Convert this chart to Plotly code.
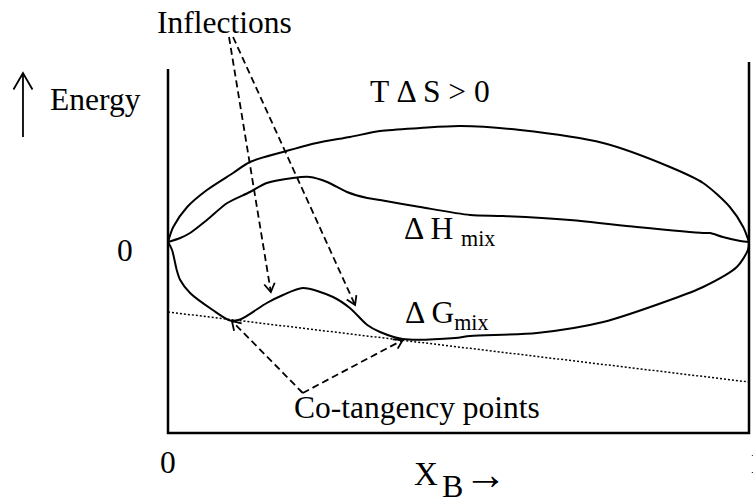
import math
import plotly.graph_objects as go

# ---------------- data (composition X_B, energy in arbitrary units) ----------------
x_TdS = [0, 0.009, 0.033, 0.067, 0.112, 0.141, 0.198, 0.256, 0.313, 0.365, 0.434, 0.503,
         0.606, 0.749, 0.864, 0.921, 0.967, 0.990, 1.0]
y_TdS = [0, 0.15, 0.35, 0.52, 0.69, 0.80, 0.90, 0.99, 1.05, 1.11, 1.14, 1.16,
         1.12, 0.99, 0.75, 0.59, 0.35, 0.15, 0.0]

x_dH = [0, 0.021, 0.038, 0.067, 0.102, 0.141, 0.170, 0.215, 0.244, 0.274, 0.308, 0.343,
        0.365, 0.434, 0.520, 0.577, 0.692, 0.807, 0.921, 0.933, 0.955, 0.985, 1.0]
y_dH = [0, 0.04, 0.09, 0.22, 0.39, 0.50, 0.59, 0.64, 0.65, 0.60, 0.50, 0.44,
        0.42, 0.35, 0.27, 0.26, 0.22, 0.15, 0.09, 0.09, 0.05, 0.01, 0]

x_dG = [0, 0.007, 0.015, 0.021, 0.038, 0.077, 0.107, 0.124, 0.170, 0.198, 0.232, 0.284,
        0.313, 0.343, 0.365, 0.404, 0.494, 0.520, 0.635, 0.749, 0.864, 0.921, 0.979, 0.998, 1.0]
y_dG = [0, -0.08, -0.28, -0.38, -0.51, -0.68, -0.785, -0.775, -0.61, -0.53, -0.46, -0.55,
        -0.66, -0.83, -0.90, -0.97, -0.96, -0.94, -0.91, -0.80, -0.58, -0.45, -0.25, -0.08, 0]

# common tangent line (two end values)
x_tan = [0.0, 1.0]
y_tan = [-0.70, -1.40]

# frame (left axis, bottom, right axis)
x_frame = [0, 0, 1, 1]
y_frame = [1.73, -1.91, -1.91, 1.80]

# pointers: (start, tip) in data coordinates
infl_start = [(0.105, 2.05), (0.112, 2.05)]
infl_tips = [(0.177, -0.50), (0.322, -0.63)]
cot_start = [(0.232, -1.51), (0.232, -1.51)]
cot_tips = [(0.110, -0.79), (0.404, -0.98)]

# ---------------- layout geometry ----------------
W, H = 753, 501
XR = [-168 / 581, 585 / 581]
YR = [-2.59, 2.42]
PX_X = W / (XR[1] - XR[0])
PX_Y = H / (YR[1] - YR[0])

FONT = "Liberation Serif, Times New Roman, serif"
FS = 31.5


def vhead(tail, tip, length=10, half_angle=32):
    dx = (tip[0] - tail[0]) * PX_X
    dy = -(tip[1] - tail[1]) * PX_Y
    n = math.hypot(dx, dy)
    vx, vy = -dx / n, -dy / n
    xs, ys = [], []
    for s in (1, -1):
        a = math.radians(half_angle) * s
        wx = vx * math.cos(a) - vy * math.sin(a)
        wy = vx * math.sin(a) + vy * math.cos(a)
        xs.append(tip[0] + length * wx / PX_X)
        ys.append(tip[1] - length * wy / PX_Y)
    return [xs[0], tip[0], xs[1], None], [ys[0], tip[1], ys[1], None]


fig = go.Figure()

fig.add_trace(go.Scatter(x=x_frame, y=y_frame, mode="lines",
                         line=dict(color="black", width=2.5), hoverinfo="skip"))
fig.add_trace(go.Scatter(x=x_tan, y=y_tan, mode="lines",
                         line=dict(color="black", width=1.5, dash="2px,2px"), hoverinfo="skip"))
for xs, ys in ((x_TdS, y_TdS), (x_dH, y_dH), (x_dG, y_dG)):
    fig.add_trace(go.Scatter(x=xs, y=ys, mode="lines",
                             line=dict(color="black", width=2, shape="spline", smoothing=0.8),
                             hoverinfo="skip"))

# dashed pointer lines + open arrowheads
dx, dy, hx, hy = [], [], [], []
for s, t in list(zip(infl_start, infl_tips)) + list(zip(cot_start, cot_tips)):
    dx += [s[0], t[0], None]
    dy += [s[1], t[1], None]
    a, b = vhead(s, t)
    hx += a
    hy += b
fig.add_trace(go.Scatter(x=dx, y=dy, mode="lines",
                         line=dict(color="black", width=1.8, dash="7px,4px"), hoverinfo="skip"))
fig.add_trace(go.Scatter(x=hx, y=hy, mode="lines",
                         line=dict(color="black", width=1.8), hoverinfo="skip"))

# energy arrow (left)
e_tail = (-0.2496, 1.05)
e_tip = (-0.2496, 1.69)
ax_, ay_ = vhead(e_tail, e_tip, length=19, half_angle=30)
fig.add_trace(go.Scatter(x=[e_tail[0], e_tip[0], None] + ax_, y=[e_tail[1], e_tip[1], None] + ay_,
                         mode="lines", line=dict(color="black", width=1.8), hoverinfo="skip"))


def txt(x, y, s, size=FS, xanchor="center", yanchor="middle"):
    fig.add_annotation(x=x, y=y, text=s, showarrow=False, xanchor=xanchor, yanchor=yanchor,
                       font=dict(family=FONT, size=size, color="black"))


txt(0.098, 2.20, "Inflections")
txt(-0.207, 1.425, "Energy", xanchor="left")
txt(0.451, 1.505, "T Δ S > 0")
txt(0.403, 0.11, "Δ H <sub>mix</sub>", xanchor="left")
txt(0.404, -0.73, "Δ G<sub>mix</sub>", xanchor="left")
txt(0.429, -1.655, "Co-tangency points")
txt(-0.074, -0.085, "0")
txt(0.0, -2.205, "0")
txt(0.996, -2.205, "1", xanchor="left")
# X_B ->
txt((412 - 168) / 581, -2.318, "X", size=33, xanchor="left")
txt((440 - 168) / 581, -2.438, "B", size=32, xanchor="left")
txt((485 - 168) / 581, -2.32, "→", size=43)

fig.update_layout(
    width=W, height=H, margin=dict(l=0, r=0, t=0, b=0),
    paper_bgcolor="white", plot_bgcolor="white", showlegend=False,
    xaxis=dict(range=XR, visible=False, fixedrange=True),
    yaxis=dict(range=YR, visible=False, fixedrange=True),
)

fig.write_html("out.html", config={"displayModeBar": False},
               post_script="document.body.style.margin='0';")
